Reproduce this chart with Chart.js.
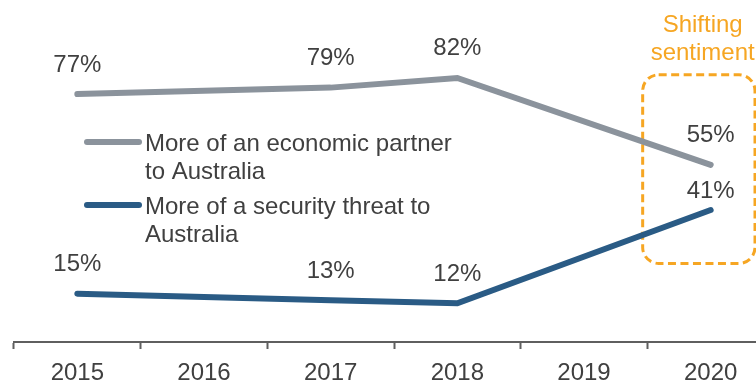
<!DOCTYPE html>
<html>
<head>
<meta charset="utf-8">
<script src="https://cdn.jsdelivr.net/npm/chart.js@4.4.1/dist/chart.umd.min.js"></script>
<style>
  html, body { margin: 0; padding: 0; background: #ffffff; overflow: hidden; }
  /* the plot runs a little past the right and bottom edges of the frame */
  #wrap { width: 756px; height: 382px; position: relative; overflow: hidden; }
  #c { position: absolute; left: 0; top: 0; }
</style>
</head>
<body>
<div id="wrap"><canvas id="c" width="774" height="397"></canvas></div>
<script>
// Survey years and share of respondents (%) for each view of China
const years = ['2015', '2016', '2017', '2018', '2019', '2020'];
const economicPartner = [77, null, 79, 82, null, 55];
const securityThreat = [15, null, 13, 12, null, 41];
const economicLabel = ['More of an economic partner', 'to Australia'];
const securityLabel = ['More of a security threat to', 'Australia'];
const calloutText = ['Shifting', 'sentiment'];

const FONT = '"Liberation Sans", Arial, Helvetica, sans-serif';
const TEXT = '#404040';
const GREY = '#8b939c';
const BLUE = '#2a5b85';
const ORANGE = '#f6a623';
const SIZE = 24;

// Percent labels above each point
const valueLabels = {
  id: 'valueLabels',
  afterDatasetsDraw(chart) {
    const ctx = chart.ctx;
    ctx.save();
    ctx.font = SIZE + 'px ' + FONT;
    ctx.fillStyle = TEXT;
    ctx.textAlign = 'center';
    ctx.textBaseline = 'alphabetic';
    chart.data.datasets.forEach((ds, di) => {
      const meta = chart.getDatasetMeta(di);
      meta.data.forEach((pt, i) => {
        const v = ds.data[i];
        if (v === null || v === undefined) return;
        const lift = ds.labelLift ? ds.labelLift[i] : 31;
        ctx.fillText(v + '%', pt.x, pt.y - lift + 8.5);
      });
    });
    ctx.restore();
  }
};

// Two-line legend placed inside the plot
const innerLegend = {
  id: 'innerLegend',
  afterDraw(chart) {
    const ctx = chart.ctx;
    const items = [
      { lines: economicLabel, color: GREY, y: 142 },
      { lines: securityLabel, color: BLUE, y: 205 }
    ];
    ctx.save();
    ctx.font = SIZE + 'px ' + FONT;
    ctx.fillStyle = TEXT;
    ctx.textAlign = 'left';
    ctx.textBaseline = 'alphabetic';
    items.forEach(it => {
      ctx.beginPath();
      ctx.lineWidth = 6;
      ctx.lineCap = 'round';
      ctx.strokeStyle = it.color;
      ctx.moveTo(87, it.y);
      ctx.lineTo(139, it.y);
      ctx.stroke();
      it.lines.forEach((t, k) => ctx.fillText(t, 145, it.y + 8.5 + k * 28));
    });
    ctx.restore();
  }
};

// Dashed call-out around the latest year
const callout = {
  id: 'callout',
  beforeDatasetsDraw(chart) {
    const ctx = chart.ctx;
    const x = chart.scales.x, y = chart.scales.y;
    const cx = x.getPixelForValue(5);
    const left = cx - 68, right = 755;
    const top = y.getPixelForValue(83), bottom = y.getPixelForValue(24.4);
    ctx.save();
    ctx.strokeStyle = ORANGE;
    ctx.lineWidth = 3;
    ctx.setLineDash([8, 4.5]);
    ctx.beginPath();
    ctx.roundRect(left, top, right - left, bottom - top, 16);
    ctx.stroke();
    ctx.setLineDash([]);
    ctx.font = SIZE + 'px ' + FONT;
    ctx.fillStyle = ORANGE;
    ctx.textAlign = 'center';
    ctx.textBaseline = 'alphabetic';
    calloutText.forEach((t, k) => ctx.fillText(t, cx - 8, 32 + k * 28));
    ctx.restore();
  }
};

new Chart(document.getElementById('c'), {
  type: 'line',
  data: {
    labels: years,
    datasets: [
      {
        label: economicLabel.join(' '),
        data: economicPartner,
        borderColor: GREY,
        backgroundColor: GREY,
        borderWidth: 6,
        borderCapStyle: 'round',
        pointRadius: 0,
        tension: 0,
        spanGaps: true
      },
      {
        label: securityLabel.join(' '),
        data: securityThreat,
        borderColor: BLUE,
        backgroundColor: BLUE,
        borderWidth: 6,
        borderCapStyle: 'round',
        pointRadius: 0,
        tension: 0,
        spanGaps: true,
        labelLift: [31, 31, 31, 31, 31, 20]
      }
    ]
  },
  options: {
    responsive: false,
    animation: false,
    events: [],
    layout: { padding: { left: 14, right: 0, top: 20, bottom: 0 } },
    plugins: {
      legend: { display: false },
      tooltip: { enabled: false }
    },
    scales: {
      x: {
        type: 'category',
        offset: true,
        grid: {
          offset: true,
          drawOnChartArea: false,
          drawTicks: true,
          tickLength: 7,
          tickWidth: 2,
          color: '#5f5f5f'
        },
        border: { display: true, color: '#5f5f5f', width: 2 },
        ticks: {
          color: TEXT,
          padding: 12,
          maxRotation: 0,
          autoSkip: false,
          font: { family: FONT, size: SIZE, lineHeight: 1 }
        }
      },
      y: {
        display: false,
        min: 0,
        max: 100
      }
    }
  },
  plugins: [callout, valueLabels, innerLegend]
});
</script>
</body>
</html>
